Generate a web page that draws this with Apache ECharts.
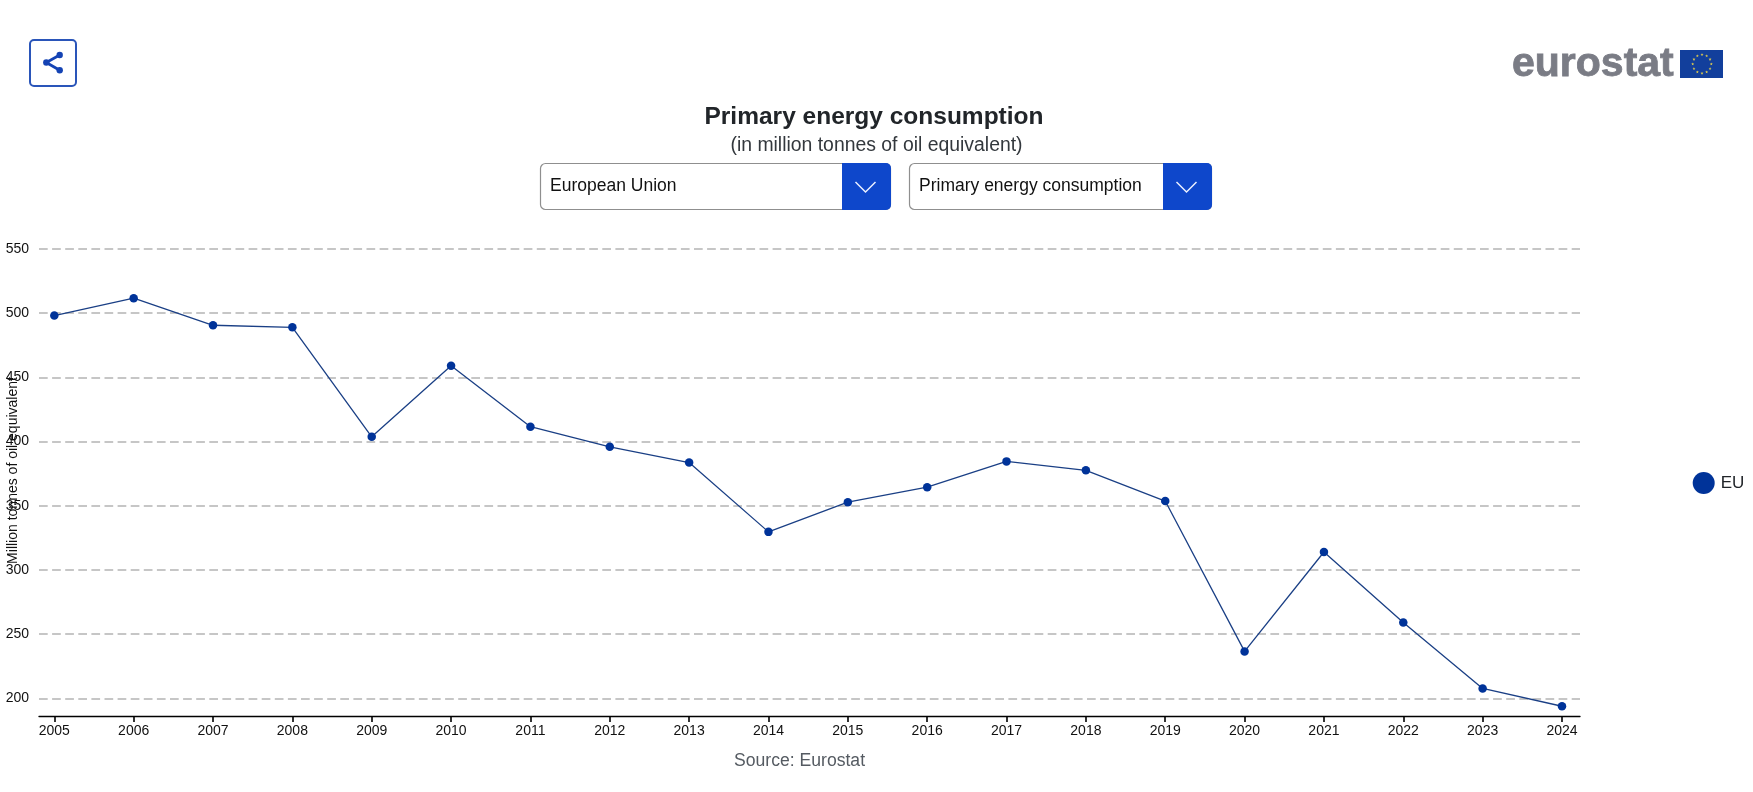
<!DOCTYPE html>
<html>
<head>
<meta charset="utf-8">
<style>html,body{margin:0;padding:0;background:#fff}#chart{width:1753px;height:792px}</style>
<script src="https://cdn.jsdelivr.net/npm/echarts@6/dist/echarts.min.js"></script>
</head>
<body>
<div id="chart"></div>
<script>
const years = [2005,2006,2007,2008,2009,2010,2011,2012,2013,2014,2015,2016,2017,2018,2019,2020,2021,2022,2023,2024];
const euValues = [498.2,511.7,490.6,489,403.7,459,411.6,395.9,383.7,329.7,352.8,364.5,384.6,377.6,353.7,236.6,314,259.2,207.8,193.9];
const yTicks = [200,250,300,350,400,450,500,550];
const seriesName = 'EU';
const titleText = 'Primary energy consumption';
const subtitleText = '(in million tonnes of oil equivalent)';
const yAxisTitle = 'Million tonnes of oil equivalent';
const sourceText = 'Source: Eurostat';
const countryChoice = 'European Union';
const indicatorChoice = 'Primary energy consumption';

const FONT = '"Liberation Sans", Arial, sans-serif';
const BLUE = '#0e47cb';

// Page furniture: share button, logo and the two selectors
function dropdown(x, y, w, h, btnW, label, textX) {
  const chevX = x + w - btnW / 2 - 1, chevY = y + h / 2 + 0.5;
  return [
    {type:'rect', shape:{x:x+.5, y:y+.5, width:w-1, height:h-1, r:5}, style:{fill:'#fff', stroke:'#8f8f8f', lineWidth:1.2}},
    {type:'rect', shape:{x:x+w-btnW, y:y, width:btnW, height:h, r:[0,5,5,0]}, style:{fill:BLUE}},
    {type:'polyline', shape:{points:[[chevX-10,chevY-5],[chevX,chevY+5],[chevX+10,chevY-5]]}, style:{fill:null, stroke:'#eaf0ff', lineWidth:1.5}},
    {type:'text', x:textX, y:y+h/2, style:{text:label, font:'17.5px '+FONT, fill:'#111', textVerticalAlign:'middle'}}
  ];
}
function starPoints(cx, cy, r) {
  const pts = [];
  for (let i = 0; i < 10; i++) {
    const a = -Math.PI/2 + i*Math.PI/5, q = i%2 ? r*0.4 : r;
    pts.push([cx+q*Math.cos(a), cy+q*Math.sin(a)]);
  }
  return pts;
}
const flagStars = Array.from({length:12}, (_, i) => {
  const a = i*Math.PI/6;
  return {type:'polygon', shape:{points:starPoints(1702+9.3*Math.cos(a), 64+9.3*Math.sin(a), 1.6)}, style:{fill:'#e8d24a'}};
});
const furniture = [
  {type:'rect', shape:{x:30, y:40, width:46, height:46, r:4}, style:{fill:'#fff', stroke:'#2a55b9', lineWidth:2}},
  {type:'polyline', shape:{points:[[59.7,55],[46.3,62.5],[59.7,70.3]]}, style:{fill:null, stroke:'#1443b4', lineWidth:2.8}},
  {type:'circle', shape:{cx:59.7, cy:55, r:3.2}, style:{fill:'#1443b4'}},
  {type:'circle', shape:{cx:46.3, cy:62.5, r:3.2}, style:{fill:'#1443b4'}},
  {type:'circle', shape:{cx:59.7, cy:70.3, r:3.2}, style:{fill:'#1443b4'}},
  {type:'text', x:1512, y:85, style:{text:'eurostat', font:'bold 41px '+FONT, fill:'#7a7c85', stroke:'#7a7c85', lineWidth:0.8, textVerticalAlign:'bottom'}},
  {type:'rect', shape:{x:1680, y:50, width:43, height:28}, style:{fill:'#123f9c'}},
  ...flagStars,
  ...dropdown(540, 163, 351, 47, 49, countryChoice, 550),
  ...dropdown(909, 163, 303, 47, 49, indicatorChoice, 919),
  {type:'text', x:734, y:761.5, style:{text:sourceText, font:'17.6px '+FONT, fill:'#555b62', textVerticalAlign:'middle'}}
];

const chart = echarts.init(document.getElementById('chart'), null, {renderer:'canvas'});
chart.setOption({
  animation:false,
  backgroundColor:'#fff',
  title:[
    {text:titleText, left:869, top:100, textAlign:'center',
     textStyle:{fontFamily:FONT, fontSize:24.5, fontWeight:'bold', color:'#212529'}},
    {text:subtitleText, left:871.5, top:131, textAlign:'center',
     textStyle:{fontFamily:FONT, fontSize:19.4, fontWeight:'normal', color:'#33383d'}}
  ],
  legend:{
    data:[{name:seriesName, icon:'circle'}],
    orient:'vertical', left:1692.7, top:472, padding:0,
    itemWidth:22, itemHeight:22, itemGap:0,
    selectedMode:false,
    textStyle:{fontFamily:FONT, fontSize:17, color:'#212529', padding:[0,0,0,1]}
  },
  grid:{left:39, right:173, top:249, bottom:76, outerBoundsMode:'none'},
  xAxis:{
    type:'value', min:2004.807, max:2024.227,
    axisLine:{show:true, lineStyle:{color:'#000', width:1.3}},
    axisTick:{show:true, length:6, lineStyle:{color:'#000', width:1.6}, customValues:years},
    axisLabel:{customValues:years, margin:8, fontFamily:FONT, fontSize:14, color:'#111', formatter:v => String(v)},
    splitLine:{show:false}
  },
  yAxis:{
    type:'value', min:186.3, max:550,
    name:yAxisTitle, nameLocation:'middle', nameGap:19, nameMoveOverlap:false,
    nameTextStyle:{fontFamily:FONT, fontSize:14, color:'#111', padding:[0,0,0,24]},
    axisLine:{show:false},
    axisTick:{show:false, customValues:yTicks},
    axisLabel:{customValues:yTicks, margin:10, fontFamily:FONT, fontSize:14, color:'#111'},
    splitLine:{show:true, lineStyle:{color:'#c6c6c6', width:2, type:[8.7,4.4]}}
  },
  series:[{
    name:seriesName, type:'line',
    data:years.map((y,i) => [y, euValues[i]]),
    symbol:'circle', symbolSize:8.5,
    itemStyle:{color:'#003399'},
    lineStyle:{color:'#1a3f85', width:1.3},
    clip:false
  }],
  graphic:{elements:furniture}
});
</script>
</body>
</html>
